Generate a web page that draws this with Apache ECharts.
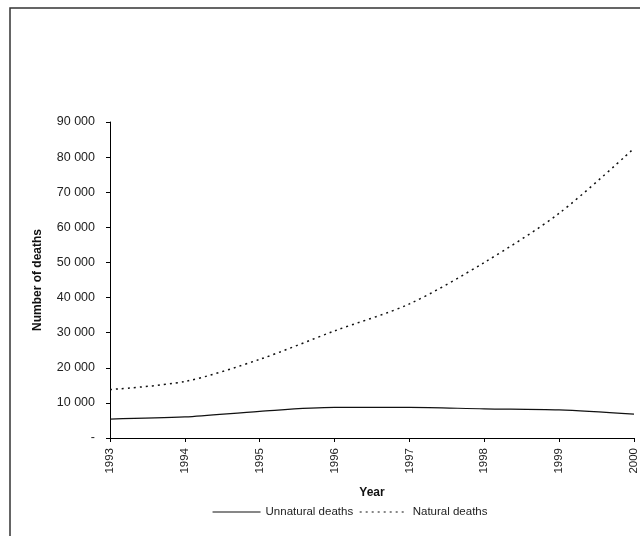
<!DOCTYPE html>
<html>
<head>
<meta charset="utf-8">
<script src="https://cdn.jsdelivr.net/npm/echarts@6/dist/echarts.min.js"></script>
<style>html,body{margin:0;padding:0;background:#fff;}#c{width:640px;height:536px;}</style>
</head>
<body>
<div id="c"></div>
<script>
var years = ['1993','1994','1995','1996','1997','1998','1999','2000'];
var unnatural = [5400, 6000, 7600, 8700, 8700, 8300, 8000, 6800];
var natural = [13800, 16100, 22400, 30500, 38200, 50000, 64000, 82500];
var yTicks = {min: 0, max: 90000, interval: 10000};

var chart = echarts.init(document.getElementById('c'));
var font = 'Liberation Sans, Arial, sans-serif';
chart.setOption({
  animation: false,
  backgroundColor: '#fff',
  graphic: [{
    type: 'rect',
    shape: {x: 10, y: 8, width: 700, height: 600},
    style: {fill: 'none', stroke: '#333', lineWidth: 1.5},
    silent: true
  }],
  grid: {left: 110, right: 3, top: 122, bottom: 98, containLabel: false},
  legend: {
    bottom: 13,
    left: 207,
    itemWidth: 48,
    itemHeight: 10,
    itemGap: 6,
    itemStyle: {opacity: 0, color: 'rgba(0,0,0,0)', borderWidth: 0},
    lineStyle: {width: 1.1},
    textStyle: {fontFamily: font, fontSize: 11.5, color: '#222'},
    data: [{name: 'Unnatural deaths'}, {name: 'Natural deaths'}]
  },
  xAxis: {
    type: 'category',
    data: years,
    boundaryGap: false,
    name: 'Year',
    nameLocation: 'middle',
    nameGap: 49,
    nameTextStyle: {fontFamily: font, fontSize: 12, fontWeight: 'bold', color: '#111'},
    axisLine: {lineStyle: {color: '#000', width: 1}},
    axisTick: {show: true, alignWithLabel: true, length: 4, lineStyle: {color: '#000'}},
    axisLabel: {rotate: 90, fontFamily: font, fontSize: 11.5, color: '#222', margin: 10}
  },
  yAxis: {
    type: 'value',
    min: yTicks.min, max: yTicks.max, interval: yTicks.interval,
    name: 'Number of deaths',
    nameLocation: 'middle',
    nameGap: 66,
    nameTextStyle: {fontFamily: font, fontSize: 12, fontWeight: 'bold', color: '#111'},
    axisLine: {show: true, lineStyle: {color: '#000', width: 1}},
    axisTick: {show: true, length: 4, lineStyle: {color: '#000'}},
    splitLine: {show: false},
    axisLabel: {
      fontFamily: font, fontSize: 12.5, color: '#222', margin: 15,
      formatter: function (v) {
        if (v === 0) return '-';
        var s = String(v);
        return s.slice(0, s.length - 3) + ' ' + s.slice(-3);
      }
    }
  },
  series: [{
    name: 'Unnatural deaths',
    type: 'line',
    data: unnatural,
    smooth: 0.3,
    symbol: 'none',
    lineStyle: {color: '#111', width: 1.2, type: 'solid'},
    itemStyle: {color: '#111'}
  }, {
    name: 'Natural deaths',
    type: 'line',
    data: natural,
    smooth: 0.3,
    symbol: 'none',
    lineStyle: {color: '#111', width: 1.5, type: [2, 4]},
    itemStyle: {color: '#111'}
  }]
});
</script>
</body>
</html>
